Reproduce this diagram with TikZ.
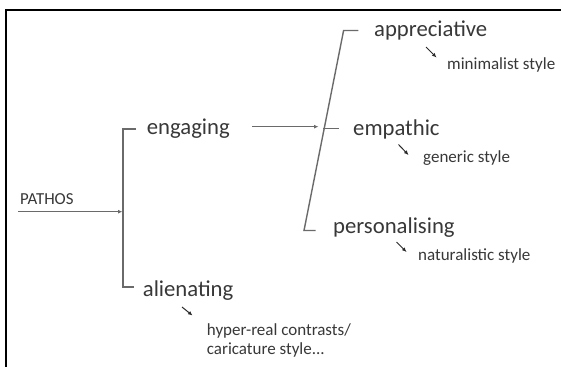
\documentclass[tikz,border=0pt]{standalone}
\usepackage{fontspec}
\setmainfont{Carlito}
\usetikzlibrary{arrows.meta}
\definecolor{txt}{HTML}{383838}
\definecolor{ln}{HTML}{6A6A6A}
\definecolor{tip}{HTML}{2A2A2A}
\tikzset{
  big/.style={inner sep=0pt, anchor=base west, text=txt, font=\fontsize{22.7}{27}\selectfont},
  small/.style={inner sep=0pt, anchor=base west, text=txt, font=\fontsize{17}{18.3}\selectfont},
  capl/.style={inner sep=0pt, anchor=base west, text=txt, font=\fontsize{16.8}{20}\selectfont},
  conn/.style={draw=ln, line width=1.4pt},
  arr/.style={conn, -{Latex[length=4.5pt,width=4pt]}},
  tiny/.style={draw=tip, line width=1pt, -{Latex[length=4.5pt,width=4pt]}},
  frame/.style={draw=black, line width=2pt}
}
\begin{document}
\begin{tikzpicture}[x=1pt,y=-1pt]
\useasboundingbox (0,0) rectangle (561,366);
\fill[white] (0,0) rectangle (561,366);
% frame
\draw[frame] (5.8,367) -- (5.8,9.8) -- (562,9.8);

% labels
\node[capl]  (pathos)  at (20,204.4) {PATHOS};
\node[big]   (eng)     at (146.7,135) {engaging};
\node[big]   (alien)   at (142.7,296) {alienating};
\node[big]   (appr)    at (374,37) {appreciative};
\node[big]   (emp)     at (353,135.3) {empathic};
\node[big]   (pers)    at (333,233.3) {personalising};
\node[small] (mini)    at (447,70) {minimalist style};
\node[small] (gen)     at (423,162.5) {generic style};
\node[small] (nat)     at (418,260.7) {naturalistic style};
\node[small] (hyper)   at (206.7,335.7) {\begin{tabular}[t]{@{}l@{}}hyper-real contrasts/\\caricature style...\end{tabular}};

% coordinates
\coordinate (ps) at (18.3,211.7);
\coordinate (pe) at (122.5,211.7);
\coordinate (b1) at (136,129);
\coordinate (b2) at (123,129);
\coordinate (b3) at (123,287);
\coordinate (b4) at (134,287);
\coordinate (es) at (252,126.7);
\coordinate (ee) at (318.5,126.7);
\coordinate (s1) at (358.3,30.5);
\coordinate (s2) at (343.6,30.5);
\coordinate (s3) at (304,230.5);
\coordinate (s4) at (315.5,230.5);
\coordinate (t1) at (323.3,128.8);
\coordinate (t2) at (339.3,128.8);

% connectors
\draw[arr] (ps) -- (pe);
\draw[conn] (b1) -- (b2) -- (b3) -- (b4);
\draw[arr] (es) -- (ee);
\draw[conn] (s1) -- (s2) -- (s3) -- (s4);
\draw[conn] (t1) -- (t2);

% small arrows
\coordinate (a1s) at (426,47);  \coordinate (a1e) at (436.5,57.5);
\coordinate (a2s) at (398.5,144.5); \coordinate (a2e) at (408.5,155);
\coordinate (a3s) at (396.5,242); \coordinate (a3e) at (406.5,252);
\coordinate (a4s) at (182,307); \coordinate (a4e) at (192.5,315.5);
\draw[tiny] (a1s) -- (a1e);
\draw[tiny] (a2s) -- (a2e);
\draw[tiny] (a3s) -- (a3e);
\draw[tiny] (a4s) -- (a4e);
\end{tikzpicture}
\end{document}
